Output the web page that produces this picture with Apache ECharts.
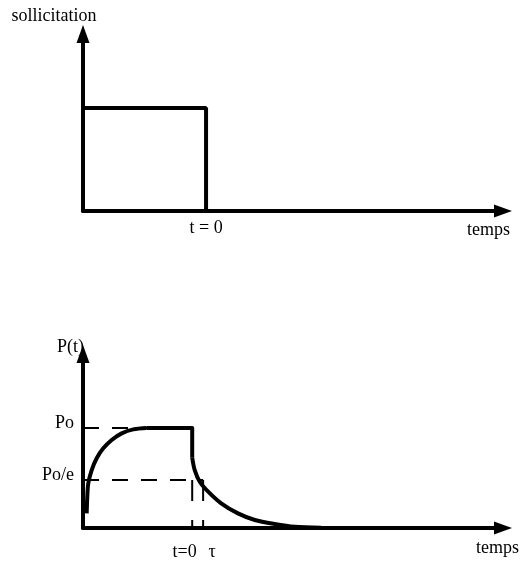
<!DOCTYPE html>
<html lang="fr">
<head>
<meta charset="UTF-8">
<title>Sollicitation et réponse P(t)</title>
<script src="https://cdn.jsdelivr.net/npm/echarts@6.0.0/dist/echarts.min.js"></script>
<style>
    html, body { margin: 0; padding: 0; background: #fff; }
    #chart { width: 520px; height: 565px; }
</style>
</head>
<body>
<div id="chart"></div>
<script>
// valeurs (axes en unités arbitraires 0..100)

// échelon de sollicitation (graphe du haut)
const stepT = [0, 29.3, 29.3];
const stepS = [58.2, 58.2, 0];
const topTickValues = [29.3];
const topTickLabels = ['t = 0'];

// réponse P(t) (graphe du bas)
const riseT = [0.88, 1.02, 1.26, 2.07, 3.26, 4.83, 6.83, 9.21, 11.98, 15.17];
const riseP = [8.4, 18.0, 25.7, 33.3, 40.1, 45.8, 50.6, 54.4, 56.7, 57.5];
const holdT = [15.17, 26.0, 26.0];
const holdP = [57.5, 57.5, 40.4];
const decayT = [26.0, 26.6, 27.8, 29.8, 32.9, 36.9, 40.9, 45.6, 50.4, 56.7];
const decayP = [40.4, 33.3, 26.6, 20.9, 14.2, 8.4, 4.6, 2.3, 0.7, 0.2];

const levelValues = [57.5, 27.6];          // Po, Po/e
const levelLabels = ['Po', 'Po/e'];
const bottomTickValues = [26.0, 28.6];     // t=0, tau
const bottomTickLabels = ['t=0', 'τ'];

const font = { fontFamily: 'Liberation Serif', fontSize: 18, color: '#000' };
const axisLineStyle = {
    show: true,
    symbol: ['none', 'triangle'],
    symbolSize: [13, 18],
    lineStyle: { color: '#000', width: 4 }
};

function pairs(xs, ys) {
    return xs.map((x, i) => [x, ys[i]]);
}

function pick(values, labels, v) {
    let best = 0;
    values.forEach((x, i) => {
        if (Math.abs(x - v) < Math.abs(values[best] - v)) best = i;
    });
    return labels[best];
}

function timeAxis(gi, tickValues, tickLabels, nameGap, namePadTop, margin, rich) {
    return {
        type: 'value', gridIndex: gi, min: 0, max: 100,
        name: 'temps', nameLocation: 'end', nameGap: nameGap,
        nameTextStyle: Object.assign({}, font, { align: 'right', verticalAlign: 'top', padding: [namePadTop, 0, 0, 0] }),
        axisLine: axisLineStyle,
        axisTick: { show: false },
        splitLine: { show: false },
        axisLabel: Object.assign({}, font, {
            customValues: tickValues,
            margin: margin,
            rich: rich,
            formatter: v => {
                const s = pick(tickValues, tickLabels, v);
                return rich ? '{' + (s === 'τ' ? 'b' : 'a') + '|' + s + '}' : s;
            }
        })
    };
}

const dash = (pts, type) => ({
    type: 'line', xAxisIndex: 1, yAxisIndex: 1, data: pts,
    symbol: 'none', silent: true,
    lineStyle: { color: '#000', width: 2, type: type }
});

const curve = (xs, ys, smooth) => ({
    type: 'line', xAxisIndex: 1, yAxisIndex: 1,
    data: pairs(xs, ys), symbol: 'none', smooth: smooth,
    lineStyle: { color: '#000', width: 4, join: 'round' }
});

const chart = echarts.init(document.getElementById('chart'));

chart.setOption({
    animation: false,
    backgroundColor: '#fff',
    grid: [
        { left: 83, right: 17, top: 34, height: 177 },
        { left: 83, right: 17, top: 354, height: 174 }
    ],
    xAxis: [
        timeAxis(0, topTickValues, topTickLabels, 7, 10, 8, null),
        timeAxis(1, bottomTickValues, bottomTickLabels, 16, 11, 15, {
            a: Object.assign({}, font, { padding: [0, 15, 0, 0] }),
            b: Object.assign({}, font, { padding: [0, 0, 0, 18] })
        })
    ],
    yAxis: [
        {
            type: 'value', gridIndex: 0, min: 0, max: 100,
            name: 'sollicitation', nameLocation: 'end', nameGap: 9,
            nameTextStyle: Object.assign({}, font, { align: 'center', padding: [0, 58, 0, 0] }),
            axisLine: axisLineStyle,
            axisTick: { show: false },
            axisLabel: { show: false },
            splitLine: { show: false }
        },
        {
            type: 'value', gridIndex: 1, min: 0, max: 100,
            name: 'P(t)', nameLocation: 'end', nameGap: -2,
            nameTextStyle: Object.assign({}, font, { align: 'center', padding: [0, 25, 0, 0] }),
            axisLine: axisLineStyle,
            axisTick: { show: false },
            splitLine: { show: false },
            axisLabel: Object.assign({}, font, {
                customValues: levelValues,
                margin: 9,
                verticalAlign: 'bottom',
                lineHeight: 10,
                formatter: v => pick(levelValues, levelLabels, v)
            })
        }
    ],
    series: [
        {
            type: 'line', xAxisIndex: 0, yAxisIndex: 0,
            data: pairs(stepT, stepS), symbol: 'none',
            lineStyle: { color: '#000', width: 4 }
        },
        dash([[0, levelValues[0]], [bottomTickValues[0], levelValues[0]]], [16, 13]),
        dash([[0, levelValues[1]], [bottomTickValues[1], levelValues[1]]], [16, 13]),
        dash([[bottomTickValues[0], levelValues[1]], [bottomTickValues[0], 0]], [21, 19]),
        dash([[bottomTickValues[1], levelValues[1]], [bottomTickValues[1], 0]], [21, 19]),
        curve(riseT, riseP, 0.3),
        curve(holdT, holdP, false),
        curve(decayT, decayP, 0.3)
    ]
});

window.addEventListener('resize', () => chart.resize());
</script>
</body>
</html>
